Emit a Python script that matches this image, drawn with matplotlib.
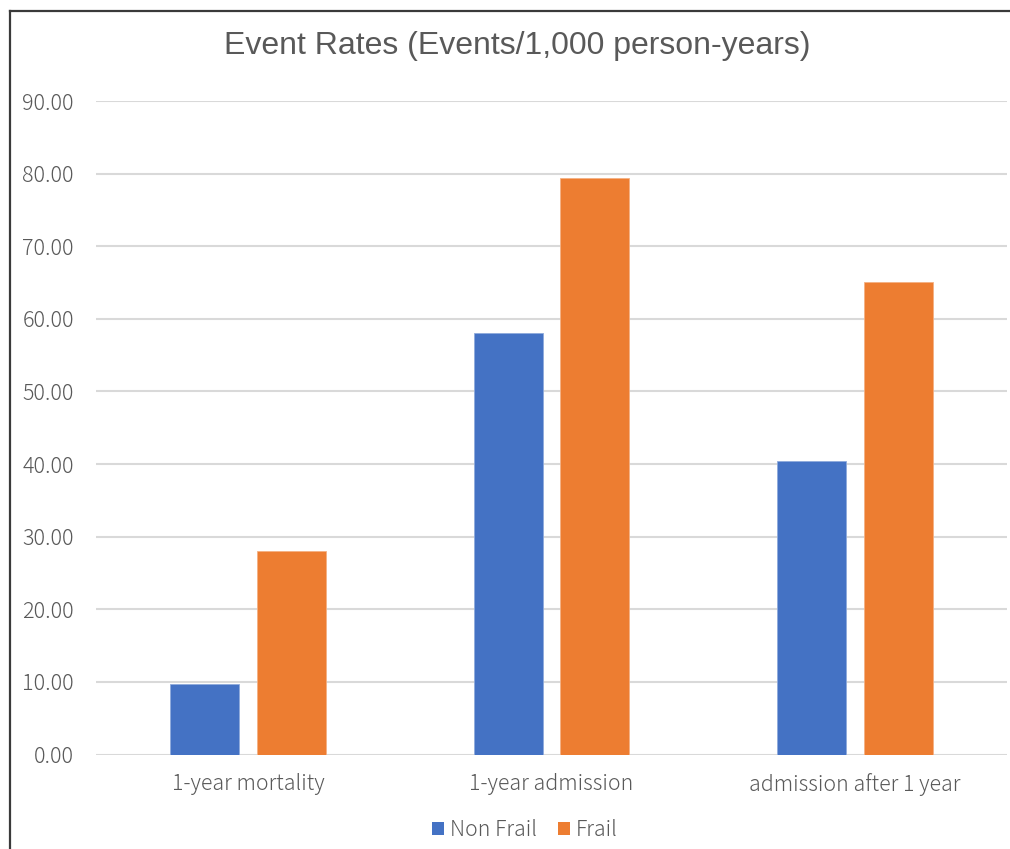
import matplotlib
matplotlib.use("Agg")
import matplotlib.pyplot as plt
import numpy as np
from matplotlib.lines import Line2D
from matplotlib.patches import Patch

categories = ["1-year mortality", "1-year admission", "admission after 1 year"]
non_frail = [9.68, 58.07, 40.47]
frail = [27.96, 79.42, 65.05]
series_names = ["Non Frail", "Frail"]
yticks = [0, 10, 20, 30, 40, 50, 60, 70, 80, 90]
title = "Event Rates (Events/1,000 person-years)"

BLUE = "#4472C4"
ORANGE = "#ED7D31"
TEXT = "#595959"
GRID = "#D9D9D9"
TICK_FONT = ["Noto Sans CJK JP", "DejaVu Sans"]

fig = plt.figure(figsize=(10.10, 8.49), dpi=100)
fig.patch.set_facecolor("white")

ax = fig.add_axes([96 / 1010, 1 - 754.5 / 849, (1007 - 96) / 1010, (754.5 - 101) / 849])

x = np.arange(len(categories))
width = 0.227
offset = 0.1425
ax.bar(x - offset, non_frail, width, color=BLUE, edgecolor="#8FAADC", linewidth=0.6, zorder=3)
ax.bar(x + offset, frail, width, color=ORANGE, edgecolor="#F4B183", linewidth=0.6, zorder=3)

ax.set_xlim(-0.5, len(categories) - 0.5)
ax.set_ylim(0, 90)
ax.set_yticks(yticks)
ax.set_yticklabels([f"{v:.2f}" for v in yticks])
ax.set_xticks(x)
ax.set_xticklabels(categories)

for s in ax.spines.values():
    s.set_visible(False)
ax.yaxis.grid(True, color=GRID, linewidth=1.5, zorder=0)
ax.set_axisbelow(True)
ax.tick_params(axis="both", length=0, colors=TEXT)
ax.tick_params(axis="y", pad=16, labelsize=15.5)
ax.tick_params(axis="x", pad=13, labelsize=15.3)
for lbl in ax.get_xticklabels() + ax.get_yticklabels():
    lbl.set_family(TICK_FONT)
    lbl.set_fontweight("light")
    lbl.set_color(TEXT)

fig.text(517 / 1010, 1 - 46 / 849, title, ha="center", va="center",
         fontsize=23, color=TEXT, family=["Liberation Sans", "DejaVu Sans"])

handles = [Patch(facecolor=BLUE, edgecolor="none"), Patch(facecolor=ORANGE, edgecolor="none")]
leg = fig.legend(handles, series_names, loc="center", bbox_to_anchor=(525 / 1010, 1 - 830 / 849),
                 ncol=2, frameon=False, handlelength=0.57, handleheight=0.57,
                 handletextpad=0.3, columnspacing=0.95,
                 prop={"family": TICK_FONT, "size": 15.3, "weight": "light"})
for t in leg.get_texts():
    t.set_color(TEXT)

# chart frame (left and top edges)
fig.add_artist(Line2D([9.5 / 1010, 9.5 / 1010], [0, 1 - 10.5 / 849],
                      transform=fig.transFigure, color="#3A3A3A", linewidth=1.6))
fig.add_artist(Line2D([9.5 / 1010, 1], [1 - 10.5 / 849, 1 - 10.5 / 849],
                      transform=fig.transFigure, color="#3A3A3A", linewidth=1.6))

fig.savefig("out.png", dpi=100)
